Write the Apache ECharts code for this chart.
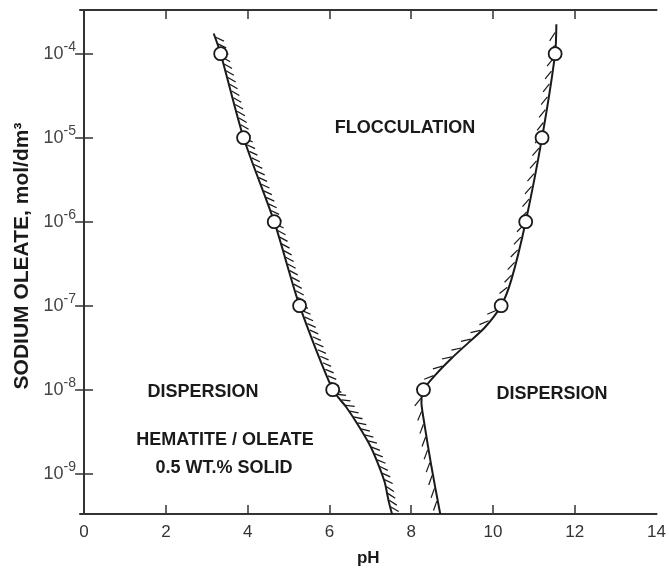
<!DOCTYPE html>
<html><head><meta charset="utf-8">
<script src="https://cdn.jsdelivr.net/npm/echarts@6/dist/echarts.min.js"></script>
<style>html,body{margin:0;padding:0;background:#fff}#c{width:669px;height:572px}</style>
</head><body><div id="c"></div>
<script>
// Axis settings
const xTickLabels = [0, 2, 4, 6, 8, 10, 12, 14];
const xTickMarks = [2, 4, 6, 8, 10, 12];
const xMin = -0.1, xMax = 14;
const yTickExps = [-9, -8, -7, -6, -5, -4];
const yExpMin = -9.48, yExpMax = -3.48;
// Measured points (pH, log10 of sodium oleate concentration)
const leftPtsPH  = [3.34, 3.9, 4.65, 5.27, 6.08];
const leftPtsExp = [-4, -5, -6, -7, -8];
const rightPtsPH  = [11.52, 11.2, 10.8, 10.2, 8.3];
const rightPtsExp = [-4, -5, -6, -7, -8];
// Boundary curves
const leftCurvePH  = [3.17, 3.34, 3.9, 4.65, 5.27, 6.08, 6.4, 6.7, 7.0, 7.17, 7.35, 7.45, 7.53];
const leftCurveExp = [-3.76, -4, -5, -6, -7, -8, -8.2, -8.42, -8.67, -8.86, -9.1, -9.33, -9.48];
const rightCurvePH  = [11.55, 11.52, 11.2, 10.8, 10.45, 10.2, 9.8, 9.4, 9.0, 8.6, 8.3, 8.25, 8.3, 8.5, 8.71];
const rightCurveExp = [-3.65, -4, -5, -6, -6.69, -7, -7.26, -7.44, -7.62, -7.82, -8, -8.15, -8.34, -8.93, -9.48];

const P = e => Math.pow(10, e);
const pairs = (xs, es) => xs.map((x, i) => [x, P(es[i])]);
const FONT = "'Liberation Sans', Arial, sans-serif";
const INK = '#1a1a1a';

function hatch(phArr, expArr, side, spacing, len, gap, ang, lw) {
  return function (params, api) {
    const pts = phArr.map((x, i) => api.coord([x, P(expArr[i])]));
    const children = [];
    let acc = spacing / 2;
    for (let i = 0; i < pts.length - 1; i++) {
      const a = pts[i], b = pts[i + 1];
      const dx = b[0] - a[0], dy = b[1] - a[1];
      const L = Math.hypot(dx, dy);
      if (L === 0) continue;
      const tx = dx / L, ty = dy / L;
      const nx = side * ty, ny = -side * tx;
      const ex = nx * Math.cos(ang) + tx * Math.sin(ang);
      const ey = ny * Math.cos(ang) + ty * Math.sin(ang);
      let d = acc;
      while (d < L) {
        const px = a[0] + tx * d, py = a[1] + ty * d;
        children.push({
          type: 'line',
          shape: { x1: px + ex * gap, y1: py + ey * gap, x2: px + ex * (gap + len), y2: py + ey * (gap + len) },
          style: { stroke: INK, lineWidth: lw }
        });
        d += spacing;
      }
      acc = d - L;
    }
    return { type: 'group', children };
  };
}

const chart = echarts.init(document.getElementById('c'), null, { renderer: 'canvas' });

const mkLine = () => ({ show: true, lineStyle: { color: '#333', width: 2 } });
const mkTick = (vals) => ({ show: true, inside: true, length: 9, customValues: vals, lineStyle: { color: '#333', width: 1.5 } });
const yVals = yTickExps.map(P);

const yLabelFmt = v => {
  const l = Math.log10(v);
  const e = Math.round(l);
  if (Math.abs(l - e) > 1e-6) return '';
  return '{a|10}{b|' + e + '}';
};

chart.setOption({
  animation: false,
  backgroundColor: '#fff',
  grid: { left: 80, right: 9, top: 10, bottom: 54 },
  xAxis: [
    {
      type: 'value', min: xMin, max: xMax, splitNumber: 7, position: 'bottom',
      axisLine: mkLine(), axisTick: mkTick(xTickMarks), splitLine: { show: false },
      axisLabel: {
        margin: 10, fontFamily: FONT, fontSize: 17, color: '#333',
        customValues: xTickLabels,
        formatter: v => String(v)
      },
      name: 'pH', nameLocation: 'middle', nameGap: 36,
      nameTextStyle: { fontFamily: FONT, fontWeight: 'bold', fontSize: 17, color: INK }
    },
    {
      type: 'value', min: xMin, max: xMax, splitNumber: 7, position: 'top',
      axisLine: mkLine(), axisTick: mkTick(xTickMarks), splitLine: { show: false }, axisLabel: { show: false }
    }
  ],
  yAxis: [
    {
      type: 'log', logBase: 10, min: P(yExpMin), max: P(yExpMax), position: 'left',
      axisLine: mkLine(), axisTick: mkTick(yVals), splitLine: { show: false }, minorTick: { show: false },
      axisLabel: {
        margin: 4, formatter: yLabelFmt, customValues: yVals,
        rich: {
          a: { fontFamily: FONT, fontSize: 18, color: '#444' },
          b: { fontFamily: FONT, fontSize: 14, color: '#444', padding: [0, 0, 14, 0] }
        }
      }
    },
    {
      type: 'log', logBase: 10, min: P(yExpMin), max: P(yExpMax), position: 'right',
      axisLine: mkLine(), axisTick: mkTick(yVals), splitLine: { show: false }, axisLabel: { show: false }
    }
  ],
  series: [
    {
      type: 'custom', xAxisIndex: 0, yAxisIndex: 0, clip: true, silent: true,
      renderItem: hatch(leftCurvePH, leftCurveExp, 1, 7, 9, 1, Math.PI / 4, 1.3),
      data: [[leftCurvePH[0], P(leftCurveExp[0])]], z: 1
    },
    {
      type: 'custom', xAxisIndex: 0, yAxisIndex: 0, clip: true, silent: true,
      renderItem: hatch(rightCurvePH, rightCurveExp, -1, 13, 10, 2, Math.PI / 3, 1.2),
      data: [[rightCurvePH[0], P(rightCurveExp[0])]], z: 1
    },
    {
      type: 'line', smooth: 0.25, symbol: 'none', clip: true,
      lineStyle: { color: INK, width: 2 },
      data: pairs(leftCurvePH, leftCurveExp), z: 2
    },
    {
      type: 'line', smooth: 0.25, symbol: 'none', clip: true,
      lineStyle: { color: INK, width: 2 },
      data: pairs(rightCurvePH, rightCurveExp), z: 2
    },
    {
      type: 'scatter', symbol: 'circle', symbolSize: 13,
      itemStyle: { color: '#fff', borderColor: INK, borderWidth: 1.8, opacity: 1 },
      data: pairs(leftPtsPH, leftPtsExp), z: 3
    },
    {
      type: 'scatter', symbol: 'circle', symbolSize: 13,
      itemStyle: { color: '#fff', borderColor: INK, borderWidth: 1.8, opacity: 1 },
      data: pairs(rightPtsPH, rightPtsExp), z: 3
    }
  ],
  graphic: [
    { type: 'text', x: 22, y: 256, rotation: Math.PI / 2,
      style: { text: 'SODIUM OLEATE, mol/dm³', align: 'center', verticalAlign: 'middle',
        font: 'bold 21px ' + FONT, fill: INK } },
    { type: 'text', x: 405, y: 128,
      style: { text: 'FLOCCULATION', align: 'center', verticalAlign: 'middle', font: 'bold 18px ' + FONT, fill: INK } },
    { type: 'text', x: 203, y: 392,
      style: { text: 'DISPERSION', align: 'center', verticalAlign: 'middle', font: 'bold 18px ' + FONT, fill: INK } },
    { type: 'text', x: 552, y: 394,
      style: { text: 'DISPERSION', align: 'center', verticalAlign: 'middle', font: 'bold 18px ' + FONT, fill: INK } },
    { type: 'text', x: 225, y: 440,
      style: { text: 'HEMATITE / OLEATE', align: 'center', verticalAlign: 'middle', font: 'bold 18px ' + FONT, fill: INK } },
    { type: 'text', x: 224, y: 468,
      style: { text: '0.5 WT.% SOLID', align: 'center', verticalAlign: 'middle', font: 'bold 18px ' + FONT, fill: INK } }
  ]
});
</script>
</body></html>
